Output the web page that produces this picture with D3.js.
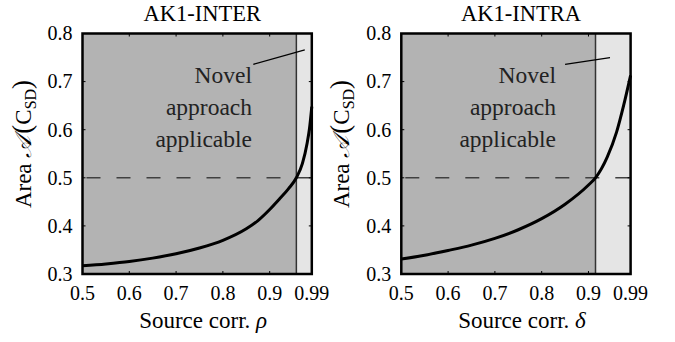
<!DOCTYPE html>
<html><head><meta charset="utf-8">
<script src="https://cdn.jsdelivr.net/npm/d3@7"></script>
<style>body{margin:0;background:#fff}svg{display:block}text{font-family:"Liberation Serif","Times New Roman",serif}</style>
</head><body><svg id="c" width="675" height="342"></svg>
<script>
const xTicks = [0.5, 0.6, 0.7, 0.8, 0.9, 0.99];
const xTickLabels = ["0.5", "0.6", "0.7", "0.8", "0.9", "0.99"];
const yTicks = [0.3, 0.4, 0.5, 0.6, 0.7, 0.8];
const yTickLabels = ["0.3", "0.4", "0.5", "0.6", "0.7", "0.8"];
const titles = ["AK1-INTER", "AK1-INTRA"];
const xLabelSymbols = ["ρ", "δ"];
const thresholds = [0.957, 0.915];
const refLevel = 0.5;
const interX = [0.5, 0.55, 0.6, 0.65, 0.7, 0.75, 0.8, 0.85, 0.875, 0.9, 0.92, 0.94, 0.957, 0.97, 0.98, 0.985, 0.99];
const interY = [0.317, 0.321, 0.326, 0.333, 0.342, 0.354, 0.370, 0.394, 0.411, 0.434, 0.455, 0.477, 0.500, 0.530, 0.572, 0.602, 0.648];
const intraX = [0.5, 0.55, 0.6, 0.65, 0.7, 0.75, 0.8, 0.85, 0.9, 0.915, 0.94, 0.96, 0.975, 0.99];
const intraY = [0.331, 0.339, 0.349, 0.360, 0.374, 0.392, 0.415, 0.445, 0.485, 0.500, 0.543, 0.595, 0.650, 0.713];
const annotLines = ["Novel", "approach", "applicable"];

const panels = [
  {x0: 82.5, title: titles[0], sym: xLabelSymbols[0], thr: thresholds[0], xs: interX, ys: interY,
   textX: 252, arrow: [[0.865, 0.736], [0.975, 0.766]]},
  {x0: 401.3, title: titles[1], sym: xLabelSymbols[1], thr: thresholds[1], xs: intraX, ys: intraY,
   textX: 556, arrow: [[0.85, 0.736], [0.946, 0.750]]}
];
const W = 229.3, plotTop = 33.5, plotBottom = 274;
const svg = d3.select("#c");

panels.forEach(p => {
  const x = d3.scaleLinear().domain([0.5, 0.99]).range([p.x0, p.x0 + W]);
  const y = d3.scaleLinear().domain([0.3, 0.8]).range([plotBottom, plotTop]);
  const g = svg.append("g");
  g.append("rect").attr("x", x(0.5)).attr("y", y(0.8)).attr("width", x(p.thr) - x(0.5)).attr("height", y(0.3) - y(0.8)).attr("fill", "#b3b3b3");
  g.append("rect").attr("x", x(p.thr)).attr("y", y(0.8)).attr("width", x(0.99) - x(p.thr)).attr("height", y(0.3) - y(0.8)).attr("fill", "#e5e5e5");
  g.append("line").attr("x1", x(p.thr)).attr("x2", x(p.thr)).attr("y1", y(0.8)).attr("y2", y(0.3)).attr("stroke", "#333").attr("stroke-width", 1.5);
  g.append("line").attr("x1", x(0.5)).attr("x2", x(0.99)).attr("y1", y(refLevel)).attr("y2", y(refLevel))
    .attr("stroke", "#404040").attr("stroke-width", 1.5).attr("stroke-dasharray", "14,16").attr("stroke-dashoffset", -4);
  const pts = p.xs.map((v, i) => [v, p.ys[i]]);
  g.append("path").datum(pts).attr("fill", "none").attr("stroke", "#000").attr("stroke-width", 3)
    .attr("d", d3.line().x(d => x(d[0])).y(d => y(d[1])).curve(d3.curveMonotoneX));
  annotLines.forEach((t, i) => {
    g.append("text").attr("x", p.textX).attr("y", 83 + i * 32).attr("text-anchor", "end")
      .attr("font-size", 23.5).attr("fill", "#222").text(t);
  });
  g.append("line").attr("x1", x(p.arrow[0][0])).attr("y1", y(p.arrow[0][1])).attr("x2", x(p.arrow[1][0])).attr("y2", y(p.arrow[1][1]))
    .attr("stroke", "#000").attr("stroke-width", 1.3);
  const tl = 3;
  const ax = g.append("g").attr("stroke", "#000").attr("stroke-width", 1);
  xTicks.forEach(v => {
    ax.append("line").attr("x1", x(v)).attr("x2", x(v)).attr("y1", y(0.3)).attr("y2", y(0.3) - tl);
    ax.append("line").attr("x1", x(v)).attr("x2", x(v)).attr("y1", y(0.8)).attr("y2", y(0.8) + tl);
  });
  yTicks.forEach(v => {
    ax.append("line").attr("x1", x(0.5)).attr("x2", x(0.5) + tl).attr("y1", y(v)).attr("y2", y(v));
    ax.append("line").attr("x1", x(0.99)).attr("x2", x(0.99) - tl).attr("y1", y(v)).attr("y2", y(v));
  });
  g.append("rect").attr("x", x(0.5)).attr("y", y(0.8)).attr("width", x(0.99) - x(0.5)).attr("height", y(0.3) - y(0.8))
    .attr("fill", "none").attr("stroke", "#000").attr("stroke-width", 2.5);
  xTicks.forEach((v, i) => {
    g.append("text").attr("x", x(v)).attr("y", 299.5).attr("text-anchor", "middle").attr("font-size", 20).text(xTickLabels[i]);
  });
  yTicks.forEach((v, i) => {
    g.append("text").attr("x", x(0.5) - 10).attr("y", y(v) + 6.8).attr("text-anchor", "end").attr("font-size", 20).text(yTickLabels[i]);
  });
  g.append("text").attr("x", (x(0.5) + x(0.99)) / 2 + 5).attr("y", 21).attr("text-anchor", "middle").attr("font-size", 22.5).text(p.title);
  const xl = g.append("text").attr("x", (x(0.5) + x(0.99)) / 2 + 6).attr("y", 328).attr("text-anchor", "middle").attr("font-size", 23);
  xl.append("tspan").text("Source corr. ");
  xl.append("tspan").attr("font-style", "italic").text(p.sym);
  const yl = g.append("text").attr("transform", `translate(${p.x0 - 52},144) rotate(-90)`).attr("text-anchor", "middle").attr("font-size", 23);
  yl.append("tspan").text("Area ");
  yl.append("tspan").attr("font-style", "italic").text("𝒜");
  yl.append("tspan").attr("font-size", 27).attr("dx", 2).text("(");
  yl.append("tspan").text("C");
  yl.append("tspan").attr("font-size", 16).attr("dy", 5).text("SD");
  yl.append("tspan").attr("dy", -5).attr("font-size", 27).text(")");
});
</script></body></html>
